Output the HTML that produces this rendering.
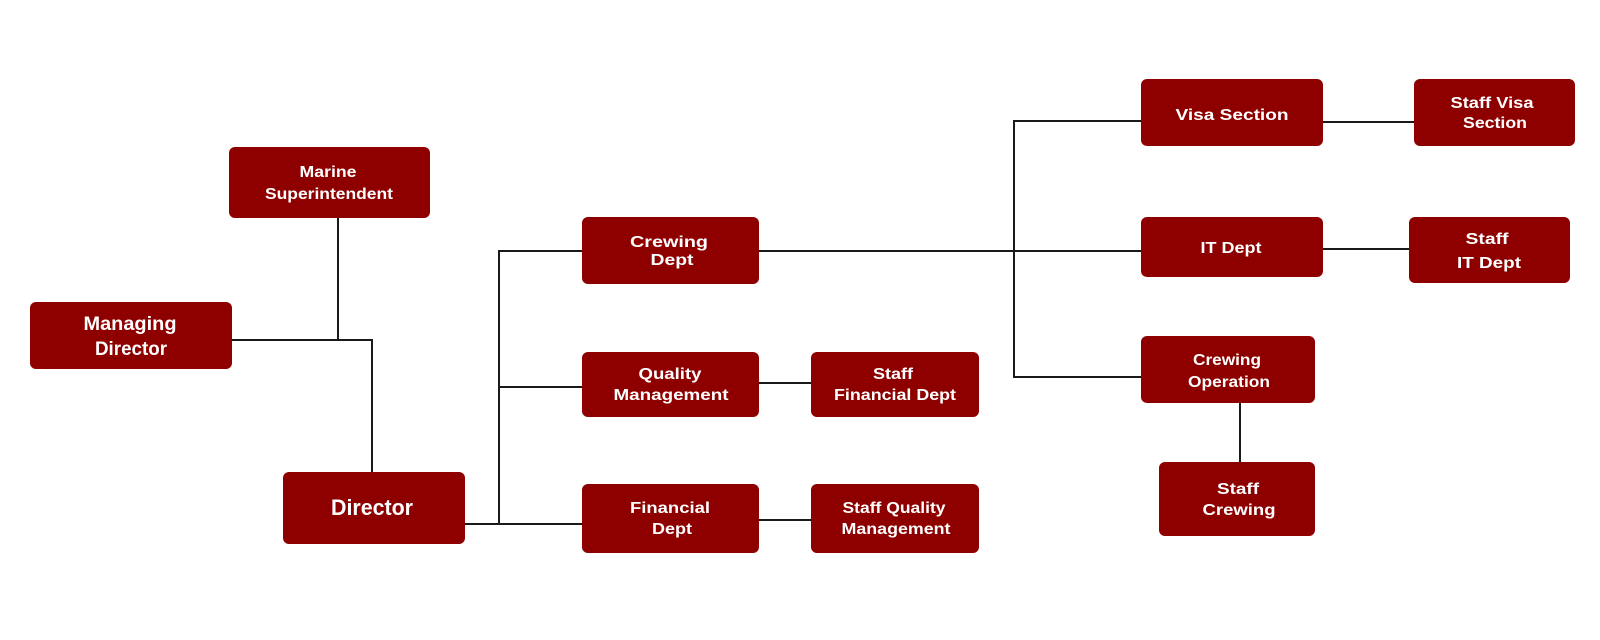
<!DOCTYPE html>
<html>
<head>
<meta charset="utf-8">
<style>
html,body{margin:0;padding:0;background:#fff;}
svg{display:block;}
text{font-family:"Liberation Sans",Arial,sans-serif;font-weight:bold;fill:#fff;text-anchor:middle;}
</style>
</head>
<body>
<svg width="1600" height="640" viewBox="0 0 1600 640" xmlns="http://www.w3.org/2000/svg">
<g stroke="#1a1a1a" stroke-width="2" fill="none">
  <line x1="338" y1="218" x2="338" y2="340"/>
  <line x1="232" y1="340" x2="373" y2="340"/>
  <line x1="372" y1="340" x2="372" y2="472"/>
  <line x1="465" y1="524" x2="582" y2="524"/>
  <line x1="499" y1="250" x2="499" y2="525"/>
  <line x1="499" y1="251" x2="582" y2="251"/>
  <line x1="499" y1="387" x2="582" y2="387"/>
  <line x1="759" y1="383" x2="811" y2="383"/>
  <line x1="759" y1="520" x2="811" y2="520"/>
  <line x1="759" y1="251" x2="1141" y2="251"/>
  <line x1="1014" y1="120" x2="1014" y2="378"/>
  <line x1="1014" y1="121" x2="1141" y2="121"/>
  <line x1="1014" y1="377" x2="1141" y2="377"/>
  <line x1="1323" y1="122" x2="1414" y2="122"/>
  <line x1="1323" y1="249" x2="1409" y2="249"/>
  <line x1="1240" y1="403" x2="1240" y2="462"/>
</g>
<g fill="#8e0000">
  <rect x="229" y="147" width="201" height="71" rx="6"/>
  <rect x="30" y="302" width="202" height="67" rx="6"/>
  <rect x="283" y="472" width="182" height="72" rx="6"/>
  <rect x="582" y="217" width="177" height="67" rx="6"/>
  <rect x="582" y="352" width="177" height="65" rx="6"/>
  <rect x="811" y="352" width="168" height="65" rx="6"/>
  <rect x="582" y="484" width="177" height="69" rx="6"/>
  <rect x="811" y="484" width="168" height="69" rx="6"/>
  <rect x="1141" y="79" width="182" height="67" rx="6"/>
  <rect x="1414" y="79" width="161" height="67" rx="6"/>
  <rect x="1141" y="217" width="182" height="60" rx="6"/>
  <rect x="1409" y="217" width="161" height="66" rx="6"/>
  <rect x="1141" y="336" width="174" height="67" rx="6"/>
  <rect x="1159" y="462" width="156" height="74" rx="6"/>
</g>
<g font-size="16">
  <text x="328" y="177" textLength="57" lengthAdjust="spacingAndGlyphs">Marine</text>
  <text x="329" y="199" textLength="128" lengthAdjust="spacingAndGlyphs">Superintendent</text>
  <text x="130" y="330" font-size="19" textLength="93" lengthAdjust="spacingAndGlyphs">Managing</text>
  <text x="131" y="355" font-size="19" textLength="72" lengthAdjust="spacingAndGlyphs">Director</text>
  <text x="372" y="515" font-size="22" textLength="82" lengthAdjust="spacingAndGlyphs">Director</text>
  <text x="669" y="247" textLength="78" lengthAdjust="spacingAndGlyphs">Crewing</text>
  <text x="672" y="265" textLength="43" lengthAdjust="spacingAndGlyphs">Dept</text>
  <text x="670" y="379" textLength="63" lengthAdjust="spacingAndGlyphs">Quality</text>
  <text x="671" y="400" textLength="115" lengthAdjust="spacingAndGlyphs">Management</text>
  <text x="893" y="379" textLength="40" lengthAdjust="spacingAndGlyphs">Staff</text>
  <text x="895" y="400" textLength="122" lengthAdjust="spacingAndGlyphs">Financial Dept</text>
  <text x="670" y="513" textLength="80" lengthAdjust="spacingAndGlyphs">Financial</text>
  <text x="672" y="534" textLength="40" lengthAdjust="spacingAndGlyphs">Dept</text>
  <text x="894" y="513" textLength="103" lengthAdjust="spacingAndGlyphs">Staff Quality</text>
  <text x="896" y="534" textLength="109" lengthAdjust="spacingAndGlyphs">Management</text>
  <text x="1232" y="120" textLength="113" lengthAdjust="spacingAndGlyphs">Visa Section</text>
  <text x="1492" y="108" textLength="83" lengthAdjust="spacingAndGlyphs">Staff Visa</text>
  <text x="1495" y="128" textLength="64" lengthAdjust="spacingAndGlyphs">Section</text>
  <text x="1231" y="253" textLength="61" lengthAdjust="spacingAndGlyphs">IT Dept</text>
  <text x="1487" y="244" textLength="43" lengthAdjust="spacingAndGlyphs">Staff</text>
  <text x="1489" y="268" textLength="64" lengthAdjust="spacingAndGlyphs">IT Dept</text>
  <text x="1227" y="365" textLength="68" lengthAdjust="spacingAndGlyphs">Crewing</text>
  <text x="1229" y="387" textLength="82" lengthAdjust="spacingAndGlyphs">Operation</text>
  <text x="1238" y="494" textLength="42" lengthAdjust="spacingAndGlyphs">Staff</text>
  <text x="1239" y="515" textLength="73" lengthAdjust="spacingAndGlyphs">Crewing</text>
</g>
</svg>
</body>
</html>
